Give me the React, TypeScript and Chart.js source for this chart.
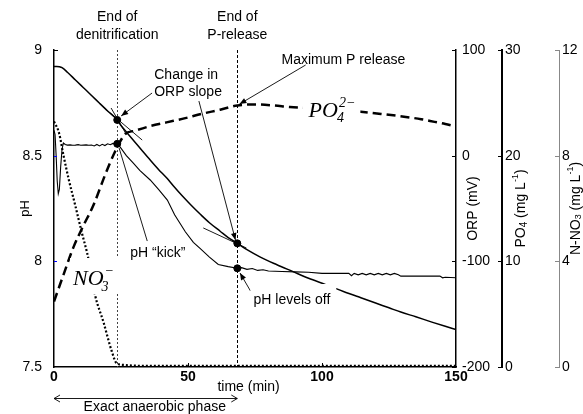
import React, { useEffect, useRef } from 'react';
import { Chart, registerables } from 'chart.js';

Chart.register(...registerables);

const SANS = "'Liberation Sans', Arial, Helvetica, sans-serif";
const SERIF = "'Liberation Serif', 'Times New Roman', serif";

// ---------- data (time in min) ----------
const orpTime = [
  0, 1, 2, 3, 5, 8, 11, 14, 17, 20,
  23.6, 25, 27.3, 30, 33, 35.9, 39, 42, 44.5, 48,
  51, 54.6, 58, 62, 65, 68.4, 72, 77, 83, 89,
  95, 101.4, 108, 114.5, 120, 125, 129.4, 135, 141, 146,
  150,
];
const orpValues = [
  84.5, 84.5, 84.2, 83.3, 79, 71.6, 64.3, 57, 49.6, 42.3,
  33.8, 28.5, 21.5, 13.5, 4.5, -4.1, -13, -21, -28.5, -38.5,
  -46.5, -55.5, -63.5, -71.5, -77.5, -83, -89, -96, -103, -109.5,
  -116, -122, -128.5, -134.5, -139.5, -144, -148, -152.5, -157.5, -161.5,
  -164.5,
];

const phTime = [
  0, 0.4, 0.8, 1.2, 1.6, 2.0, 2.5, 3.0, 3.5, 4.2,
  5, 6, 7, 8, 9, 10, 11, 12, 13, 14,
  15, 16, 17, 18, 19, 20, 21, 22, 23.6, 24.7,
  27, 29.6, 32, 35.9, 39, 42.3, 45, 49, 52, 54.6,
  58, 61.3, 65, 68.4, 70, 72, 74, 76, 78, 80,
  85, 90, 95, 100, 104, 106, 110, 111, 112, 113.5,
  115, 116.5, 118, 119.5, 121, 122.5, 124, 125.5, 127, 128.5,
  129.4, 135, 140, 144, 145, 146, 150,
];
const phValues = [
  8.62, 8.6, 8.5, 8.38, 8.32, 8.34, 8.45, 8.53, 8.56, 8.553,
  8.55, 8.551, 8.549, 8.55, 8.552, 8.549, 8.55, 8.551, 8.549, 8.55,
  8.546, 8.553, 8.546, 8.554, 8.548, 8.556, 8.552, 8.558, 8.556, 8.54,
  8.5, 8.465, 8.43, 8.385, 8.34, 8.29, 8.22, 8.14, 8.09, 8.06,
  8.02, 7.985, 7.975, 7.967, 7.97, 7.962, 7.966, 7.957, 7.96, 7.954,
  7.952, 7.95, 7.948, 7.943, 7.943, 7.943, 7.943, 7.932, 7.943, 7.936,
  7.943, 7.936, 7.943, 7.936, 7.943, 7.936, 7.943, 7.936, 7.943, 7.936,
  7.93, 7.93, 7.93, 7.93, 7.922, 7.925, 7.922,
];

const po4Time = [
  0, 3.5, 7.2, 11, 14.7, 19.1, 22.8, 26.6, 30, 36,
  42, 49, 55, 62, 68.4, 75, 82, 88, 95, 105,
  114.5, 122, 130.6, 137, 142, 146, 150,
];
const po4Values = [
  6.2, 8.7, 11.3, 13.4, 15.3, 18.2, 20.4, 22.05, 22.35, 22.8,
  23.15, 23.55, 23.95, 24.35, 24.75, 24.85, 24.75, 24.6, 24.5, 24.35,
  24.16, 23.95, 23.69, 23.45, 23.2, 23.0, 22.75,
];

const no3Time = [
  0, 1.9, 3.5, 5.5, 7.9, 10.3, 12.8, 15.3, 18.4, 21.6,
  23.4, 25.9, 30, 40, 60, 80, 100, 120, 150,
];
const no3Values = [
  9.3, 8.85, 8.03, 7.1, 6.13, 5.12, 4.12, 2.73, 1.72, 0.58,
  0.14, 0.08, 0.05, 0.04, 0.04, 0.04, 0.04, 0.04, 0.04,
];

// key events
const T_DENIT = 23.6; // end of denitrification
const T_PREL = 68.4; // end of P-release
const markerTimes = [T_DENIT, T_PREL];
const orpMarkers = [33.8, -83];
const phMarkers = [8.556, 7.967];

// slope lines on ORP curve
const tangentA_t = [18.3, 32.9];
const tangentA_v = [46.1, 14.8];
const tangentB_t = [21.3, 26.9];
const tangentB_v = [45.1, 20.5];
const tangentC_t = [55.7, 71.8];
const tangentC_v = [-68.4, -87.4];

// axis ticks
const xTicks = [0, 50, 100, 150];
const phTicks = [7.5, 8, 8.5, 9];
const orpTicks = [-200, -100, 0, 100];
const po4Ticks = [0, 10, 20, 30];
const no3Ticks = [0, 4, 8, 12];

const pts = (ts: number[], vs: number[]) => ts.map((t, i) => ({ x: t, y: vs[i] }));

type Part = { t: string; size: number; dy: number };

function partsWidth(ctx: CanvasRenderingContext2D, parts: Part[], family: string, style = '') {
  let w = 0;
  for (const p of parts) {
    ctx.font = `${style} ${p.size}px ${family}`;
    w += ctx.measureText(p.t).width;
  }
  return w;
}
function drawParts(ctx: CanvasRenderingContext2D, parts: Part[], x: number, y: number, family: string, style = '') {
  let cx = x;
  for (const p of parts) {
    ctx.font = `${style} ${p.size}px ${family}`;
    ctx.fillText(p.t, cx, y + p.dy);
    cx += ctx.measureText(p.t).width;
  }
}
function rotatedTitle(ctx: CanvasRenderingContext2D, parts: Part[], cx: number, cy: number) {
  ctx.save();
  ctx.translate(cx, cy);
  ctx.rotate(-Math.PI / 2);
  ctx.textBaseline = 'middle';
  ctx.textAlign = 'left';
  const w = partsWidth(ctx, parts, SANS);
  drawParts(ctx, parts, -w / 2, 0, SANS);
  ctx.restore();
}
function arrowLine(ctx: CanvasRenderingContext2D, x1: number, y1: number, x2: number, y2: number, head: boolean) {
  ctx.beginPath();
  ctx.moveTo(x1, y1);
  ctx.lineTo(x2, y2);
  ctx.stroke();
  if (head) {
    const a = Math.atan2(y2 - y1, x2 - x1);
    const L = 7, W = 2.8;
    ctx.beginPath();
    ctx.moveTo(x2, y2);
    ctx.lineTo(x2 - L * Math.cos(a) + W * Math.sin(a), y2 - L * Math.sin(a) - W * Math.cos(a));
    ctx.lineTo(x2 - L * Math.cos(a) - W * Math.sin(a), y2 - L * Math.sin(a) + W * Math.cos(a));
    ctx.closePath();
    ctx.fill();
  }
}

const annotPlugin = {
  id: 'annot',
  beforeDatasetsDraw(chart: any) {
    const { ctx, chartArea: ca, scales } = chart;
    const x = scales.x;
    ctx.save();
    ctx.lineWidth = 1;
    const x1 = Math.round(x.getPixelForValue(T_DENIT)) + 0.5;
    ctx.strokeStyle = '#444';
    ctx.setLineDash([2, 2]);
    ctx.beginPath();
    ctx.moveTo(x1, ca.top);
    ctx.lineTo(x1, ca.bottom);
    ctx.stroke();
    const x2 = Math.round(x.getPixelForValue(T_PREL)) + 0.5;
    ctx.strokeStyle = '#000';
    ctx.setLineDash([3, 2]);
    ctx.beginPath();
    ctx.moveTo(x2, ca.top);
    ctx.lineTo(x2, ca.bottom);
    ctx.stroke();
    ctx.restore();
  },
  afterDatasetsDraw(chart: any) {
    const { ctx, scales } = chart;
    const x = scales.x;
    const yp = scales.yPH;
    const P = (t: number, v: number) => [x.getPixelForValue(t), yp.getPixelForValue(v)];
    ctx.save();
    ctx.fillStyle = '#000';
    ctx.strokeStyle = '#000';
    ctx.lineWidth = 0.9;

    // italic chemical labels with white background
    {
      const [lx, by] = P(95.0, 8.683);
      ctx.font = `italic 22px ${SERIF}`;
      const w1 = ctx.measureText('PO').width;
      ctx.font = `italic 14px ${SERIF}`;
      const w2 = ctx.measureText('2\u2212').width;
      ctx.fillStyle = '#fff';
      ctx.fillRect(lx - 6, by - 20, w1 + w2 + 12, 30);
      ctx.fillStyle = '#000';
      ctx.textBaseline = 'alphabetic';
      ctx.textAlign = 'left';
      ctx.font = `italic 22px ${SERIF}`;
      ctx.fillText('PO', lx, by);
      ctx.font = `italic 14px ${SERIF}`;
      ctx.fillText('4', lx + w1 - 1, by + 5);
      ctx.fillText('2\u2212', lx + w1 + 1, by - 10);
    }
    {
      const [lx, by] = P(7.1, 7.888);
      ctx.font = `italic 22px ${SERIF}`;
      const w1 = ctx.measureText('NO').width;
      ctx.fillStyle = '#fff';
      ctx.fillRect(lx - 3, by - 27, w1 + 18, 36);
      ctx.fillStyle = '#000';
      ctx.textBaseline = 'alphabetic';
      ctx.textAlign = 'left';
      ctx.fillText('NO', lx, by);
      ctx.font = `italic 14px ${SERIF}`;
      ctx.fillText('3', lx + w1 - 2, by + 6);
      ctx.fillText('\u2212', lx + w1 + 1, by - 10);
    }

    // arrows
    const arrows: [number, number, number, number, boolean][] = [
      [36.66, 8.797, 25.06, 8.688, true],
      [53.87, 8.768, 67.71, 8.101, true],
      [93.89, 8.929, 69.2, 8.744, true],
      [34.79, 8.096, 24.3, 8.536, false],
      [73.3, 7.86, 69.4, 7.945, true],
    ];
    for (const [t1, v1, t2, v2, h] of arrows) {
      const [a, b] = P(t1, v1);
      const [c, d] = P(t2, v2);
      arrowLine(ctx, a, b, c, d, h);
    }

    // annotation texts
    ctx.font = `14px ${SANS}`;
    ctx.textBaseline = 'middle';
    ctx.textAlign = 'left';
    const boxed = (text: string, t: number, v: number, pad: number[]) => {
      const [px, py] = P(t, v);
      const w = ctx.measureText(text).width;
      ctx.fillStyle = '#fff';
      ctx.fillRect(px - pad[0], py - pad[1], w + pad[0] + pad[2], pad[1] + pad[3]);
      ctx.fillStyle = '#000';
      ctx.fillText(text, px, py);
    };
    boxed('Change in', 37.4, 8.882, [2, 8, 2, 9]);
    boxed('ORP slope', 37.4, 8.801, [2, 8, 2, 9]);
    boxed('Maximum P release', 84.9, 8.953, [0, 0, 0, 0]);
    boxed('pH \u201Ckick\u201D', 28.43, 8.039, [2, 8, 2, 9]);
    boxed('pH levels off', 74.44, 7.817, [3, 16, 6, 10]);

    ctx.textAlign = 'center';
    const [d1x] = P(T_DENIT, 9);
    const [d2x] = P(T_PREL, 9);
    ctx.fillText('End of', d1x, P(0, 9.156)[1]);
    ctx.fillText('denitrification', d1x, P(0, 9.071)[1]);
    ctx.fillText('End of', d2x, P(0, 9.156)[1]);
    ctx.fillText('P-release', d2x, P(0, 9.071)[1]);
    ctx.restore();
  },
  afterDraw(chart: any) {
    const { ctx, chartArea: ca, scales } = chart;
    const x = scales.x;
    ctx.save();
    // inward tick marks
    ctx.lineWidth = 1;
    const hTick = (scale: any, v: number, x0: number, dx: number, color: string) => {
      const y = Math.round(scale.getPixelForValue(v)) + 0.5;
      ctx.strokeStyle = color;
      ctx.beginPath();
      ctx.moveTo(x0, y);
      ctx.lineTo(x0 + dx, y);
      ctx.stroke();
    };
    hTick(scales.yPH, 9, ca.left, 4, '#000');
    hTick(scales.yPH, 8.5, ca.left, 3, '#0000ff');
    hTick(scales.yPH, 8, ca.left, 3, '#0000ff');
    for (const v of orpTicks) hTick(scales.yORP, v, scales.yORP.left, -4, '#000');
    for (const v of po4Ticks) hTick(scales.yPO4, v, scales.yPO4.left, -4, '#000');
    for (const v of no3Ticks) hTick(scales.yNO3, v, scales.yNO3.left, -4, '#888');
    ctx.strokeStyle = '#000';
    for (const v of xTicks.slice(1, -1)) {
      const px = Math.round(x.getPixelForValue(v)) + 0.5;
      ctx.beginPath();
      ctx.moveTo(px, ca.bottom);
      ctx.lineTo(px, ca.bottom - 4);
      ctx.stroke();
    }

    // axis titles
    ctx.fillStyle = '#000';
    const cy = (ca.top + ca.bottom) / 2;
    rotatedTitle(ctx, [{ t: 'pH', size: 13, dy: 0 }], 25, cy);
    rotatedTitle(ctx, [{ t: 'ORP (mV)', size: 14, dy: 0 }], scales.yORP.left + 17, cy);
    rotatedTitle(
      ctx,
      [
        { t: 'PO', size: 14, dy: 0 },
        { t: '4', size: 10, dy: 3 },
        { t: ' (mg L', size: 14, dy: 0 },
        { t: '-1', size: 9, dy: -5 },
        { t: ')', size: 14, dy: 0 },
      ],
      scales.yPO4.left + 19,
      cy
    );
    rotatedTitle(
      ctx,
      [
        { t: 'N-NO', size: 14, dy: 0 },
        { t: '3', size: 9, dy: 3 },
        { t: ' (mg L', size: 14, dy: 0 },
        { t: '-1', size: 9, dy: -5 },
        { t: ')', size: 14, dy: 0 },
      ],
      scales.yNO3.left + 17,
      cy
    );

    ctx.font = `14px ${SANS}`;
    ctx.textAlign = 'center';
    ctx.textBaseline = 'middle';
    ctx.fillText('time (min)', x.getPixelForValue(72.6), ca.bottom + 20);
    ctx.fillText('Exact anaerobic phase', x.getPixelForValue(37.6), ca.bottom + 40);

    // double arrow of the anaerobic phase
    const ax1 = x.getPixelForValue(0);
    const ax2 = x.getPixelForValue(T_PREL);
    const ay = ca.bottom + 31.5;
    ctx.strokeStyle = '#000';
    ctx.lineWidth = 0.9;
    ctx.beginPath();
    ctx.moveTo(ax1, ay);
    ctx.lineTo(ax2, ay);
    ctx.moveTo(ax1 + 6, ay - 3.5);
    ctx.lineTo(ax1, ay);
    ctx.lineTo(ax1 + 6, ay + 3.5);
    ctx.moveTo(ax2 - 6, ay - 3.5);
    ctx.lineTo(ax2, ay);
    ctx.lineTo(ax2 - 6, ay + 3.5);
    ctx.stroke();
    ctx.restore();
  },
};

export default function App() {
  const ref = useRef<HTMLCanvasElement>(null);
  useEffect(() => {
    const canvas = ref.current as HTMLCanvasElement;
    const baseLine = { pointRadius: 0, fill: false, borderColor: '#000', backgroundColor: '#000' };
    const tickFont = { family: SANS, size: 14 };
    const chart = new Chart(canvas, {
      type: 'line',
      data: {
        datasets: [
          { ...baseLine, label: 'ORP markers', data: pts(markerTimes, orpMarkers), yAxisID: 'yORP', showLine: false, pointRadius: 3.5, pointBackgroundColor: '#000', pointBorderColor: '#000' },
          { ...baseLine, label: 'pH markers', data: pts(markerTimes, phMarkers), yAxisID: 'yPH', showLine: false, pointRadius: 3.5, pointBackgroundColor: '#000', pointBorderColor: '#000' },
          { ...baseLine, label: 'tA', data: pts(tangentA_t, tangentA_v), yAxisID: 'yORP', borderWidth: 0.9 },
          { ...baseLine, label: 'tB', data: pts(tangentB_t, tangentB_v), yAxisID: 'yORP', borderWidth: 0.9 },
          { ...baseLine, label: 'tC', data: pts(tangentC_t, tangentC_v), yAxisID: 'yORP', borderWidth: 0.9 },
          { ...baseLine, label: 'ORP', data: pts(orpTime, orpValues), yAxisID: 'yORP', borderWidth: 1.5, cubicInterpolationMode: 'monotone' },
          { ...baseLine, label: 'pH', data: pts(phTime, phValues), yAxisID: 'yPH', borderWidth: 1.1, tension: 0 },
          { ...baseLine, label: 'PO4', data: pts(po4Time, po4Values), yAxisID: 'yPO4', borderWidth: 2.5, borderDash: [9, 5], cubicInterpolationMode: 'monotone' },
          { ...baseLine, label: 'NO3', data: pts(no3Time, no3Values), yAxisID: 'yNO3', borderWidth: 2.2, borderDash: [2, 2], cubicInterpolationMode: 'monotone' },
        ],
      },
      options: {
        responsive: false,
        animation: false,
        devicePixelRatio: 1,
        layout: { padding: { left: 0, right: 0, top: 50, bottom: 0 }, autoPadding: false },
        plugins: { legend: { display: false }, tooltip: { enabled: false } },
        scales: {
          x: {
            type: 'linear',
            min: xTicks[0],
            max: xTicks[xTicks.length - 1],
            afterFit: (s: any) => { s.height = 47; },
            grid: { display: false, drawTicks: false },
            border: { display: true, color: '#000', width: 1.5 },
            ticks: { stepSize: 50, padding: 2, color: '#000', font: { ...tickFont, weight: 'bold' }, maxRotation: 0, autoSkip: false },
          },
          yPH: {
            type: 'linear',
            position: 'left',
            min: phTicks[0],
            max: phTicks[phTicks.length - 1],
            afterFit: (s: any) => { s.width = 54; },
            grid: { display: false, drawTicks: false },
            border: { display: true, color: '#000', width: 1.5 },
            ticks: { stepSize: 0.5, padding: 12, color: '#000', font: tickFont, callback: (v: any) => String(v) },
          },
          yORP: {
            type: 'linear',
            position: 'right',
            weight: 1,
            min: orpTicks[0],
            max: orpTicks[orpTicks.length - 1],
            afterFit: (s: any) => { s.width = 46; },
            grid: { display: false, drawTicks: false },
            border: { display: true, color: '#000', width: 1.5 },
            ticks: { stepSize: 100, padding: 6, color: '#000', font: tickFont },
          },
          yPO4: {
            type: 'linear',
            position: 'right',
            weight: 2,
            min: po4Ticks[0],
            max: po4Ticks[po4Ticks.length - 1],
            afterFit: (s: any) => { s.width = 57; },
            grid: { display: false, drawTicks: false },
            border: { display: true, color: '#000', width: 2 },
            ticks: { stepSize: 10, padding: 3, color: '#000', font: tickFont },
          },
          yNO3: {
            type: 'linear',
            position: 'right',
            weight: 3,
            min: no3Ticks[0],
            max: no3Ticks[no3Ticks.length - 1],
            afterFit: (s: any) => { s.width = 24; },
            grid: { display: false, drawTicks: false },
            border: { display: true, color: '#888', width: 1 },
            ticks: { stepSize: 4, padding: 3, color: '#000', font: tickFont },
          },
        },
      } as any,
      plugins: [annotPlugin],
    });
    return () => chart.destroy();
  }, []);
  return (
    <div style={{ position: 'absolute', left: 0, top: 0, width: 583, height: 414, background: '#fff' }}>
      <canvas ref={ref} width={583} height={414} style={{ display: 'block' }} />
    </div>
  );
}
